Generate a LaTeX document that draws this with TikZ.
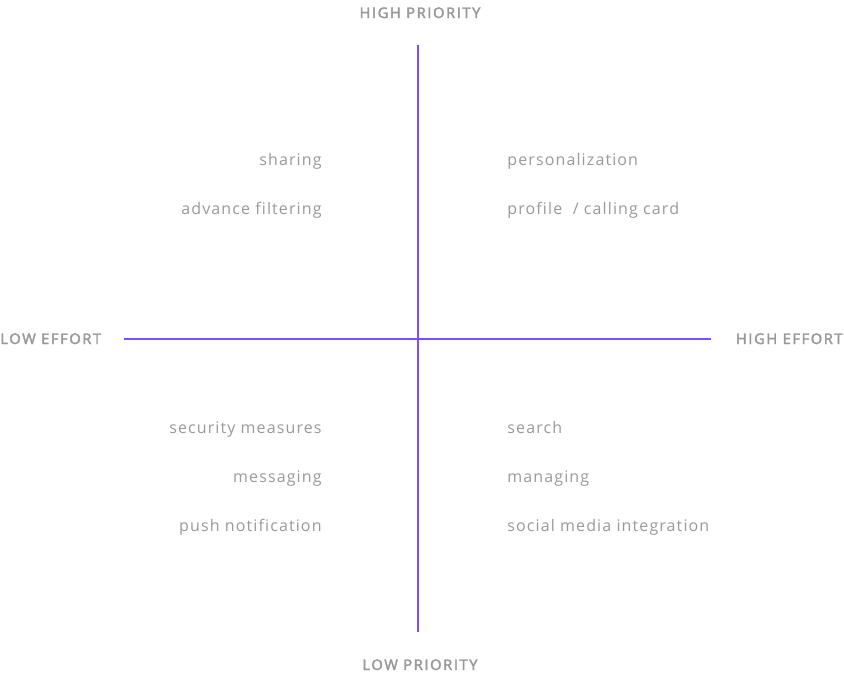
\documentclass[tikz,border=0pt]{standalone}
\usepackage{fontspec}
\setmainfont[Ligatures=NoCommon,LetterSpace=7]{Open Sans}
\newfontfamily\headfont[LetterSpace=11,FakeBold=2.6]{Open Sans}
\usetikzlibrary{positioning}
\definecolor{axis}{HTML}{7C4DFF}
\definecolor{label}{HTML}{999999}

\begin{document}
\begin{tikzpicture}[x=0.75pt,y=-0.75pt,font=\fontsize{12}{14}\selectfont,semithick]
  \tikzstyle{head}=[text=label,inner sep=0pt,font=\headfont\fontsize{11}{13}\selectfont]
  \tikzstyle{lft}=[text=label,inner sep=0pt,anchor=base east]
  \tikzstyle{rgt}=[text=label,inner sep=0pt,anchor=base west]
  \useasboundingbox (0,0) rectangle (844,676);

  \coordinate (top)    at (418,45);
  \coordinate (bottom) at (418,632);
  \coordinate (left)   at (124,339);
  \coordinate (right)  at (711,339);
  \draw[axis,line width=1.5pt] (top) -- (bottom);
  \draw[axis,line width=1.5pt] (left) -- (right);

  \node[head,anchor=base]      (hp) at (420,18)  {HIGH PRIORITY};
  \node[head,anchor=base]      (lp) at (420,670) {LOW PRIORITY};
  \node[head,anchor=base west] (le) at (0,344)   {LOW EFFORT};
  \node[head,anchor=base east] (he) at (843,344) {HIGH EFFORT};

  \node[lft] (sharing)   at (322,165) {sharing};
  \node[lft] (filtering) at (322,214) {advance filtering};
  \node[lft] (security)  at (322,433) {security measures};
  \node[lft] (messaging) at (322,482) {messaging};
  \node[lft] (push)      at (322,531) {push notification};

  \node[rgt] (personal)  at (507,165) {personalization};
  \node[rgt] (profile)   at (507,214) {profile~~/ calling card};
  \node[rgt] (search)    at (507,433) {search};
  \node[rgt] (managing)  at (507,482) {managing};
  \node[rgt] (social)    at (507,531) {social media integration};
\end{tikzpicture}
\end{document}
